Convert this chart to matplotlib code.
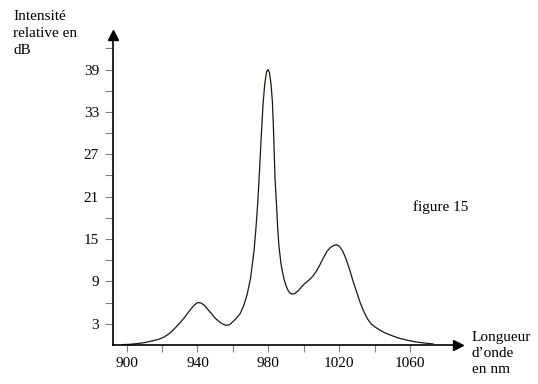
import matplotlib.pyplot as plt

longueur_nm = [898, 902, 906, 910, 914, 918, 921, 924, 927, 930, 933, 936,
               938, 940, 942, 944, 946, 948, 950, 952, 954, 956, 958, 960,
               962, 964, 966, 968, 970, 971, 972, 973, 974, 975, 976, 977,
               978, 979, 979.8, 980.6, 981.5, 982.3, 983, 983.8, 984.5,
               985.3, 986, 987, 988, 989, 990, 991, 992, 993.5, 995, 997,
               999, 1001, 1003, 1005, 1007, 1009, 1011, 1013, 1015, 1017,
               1018.6, 1020, 1022, 1024, 1026, 1028, 1030, 1032, 1034, 1036,
               1038, 1040, 1043, 1046, 1050, 1054, 1058, 1063, 1068, 1073]
intensite_db = [0.05, 0.1, 0.2, 0.33, 0.55, 0.8, 1.1, 1.6, 2.3, 3.1, 4.0, 5.0,
                5.6, 6.0, 5.95, 5.6, 5.0, 4.4, 3.8, 3.35, 3.0, 2.8, 2.85, 3.3,
                3.8, 4.4, 5.5, 7.1, 9.5, 11.5, 13.5, 16.5, 20.0, 24.5, 29.5,
                34.0, 37.0, 38.7, 39.0, 38.6, 37.0, 34.5, 30.0, 23.5, 20.5,
                16.5, 14.0, 11.8, 10.3, 9.2, 8.4, 7.8, 7.4, 7.2, 7.3, 7.7,
                8.3, 8.8, 9.2, 9.7, 10.4, 11.3, 12.3, 13.2, 13.8, 14.1,
                14.2, 14.0, 13.3, 12.1, 10.6, 8.9, 7.4, 5.9, 4.7, 3.7,
                3.0, 2.6, 2.1, 1.7, 1.3, 0.95, 0.7, 0.45, 0.28, 0.15]

xticks = list(range(900, 1061, 20))
xlabels = ["900", "", "940", "", "980", "", "1020", "", "1060"]
yticks = list(range(3, 43, 3))
ylabels = [str(v) if (v - 3) % 6 == 0 else "" for v in yticks]

plt.rcParams["font.family"] = ["Liberation Serif", "DejaVu Serif"]

fig = plt.figure(figsize=(5.38, 3.84), dpi=100)
ax = fig.add_axes([0.21, 0.1016, 0.641, 0.8074])

ax.plot(longueur_nm, intensite_db, color="#1a1a10", linewidth=0.9)

ax.set_xlim(892.3, 1087)
ax.set_ylim(0, 43.9)

ax.spines["top"].set_visible(False)
ax.spines["right"].set_visible(False)
ax.spines["left"].set_linewidth(1.2)
ax.spines["bottom"].set_linewidth(1.2)

ax.set_xticks(xticks)
ax.set_xticklabels(xlabels, fontsize=11)
ax.set_yticks(yticks)
ax.set_yticklabels(ylabels, fontsize=11)
ax.tick_params(axis="x", direction="out", length=5, color="#808080", pad=4)
ax.tick_params(axis="y", direction="out", length=6, color="#808080", pad=4)

# flèches des axes
ax.plot(1, 0, ">", color="black", markersize=7,
        transform=ax.get_yaxis_transform(), clip_on=False)
ax.plot(892.3, 1, "^", color="black", markersize=7,
        transform=ax.get_xaxis_transform(), clip_on=False)

fig.text(13 / 538, 1 - 10 / 384, "Intensité\nrelative en\ndB", fontsize=11,
         ha="left", va="top", linespacing=1.38)
fig.text(472 / 538, 1 - 331 / 384, "Longueur\nd’onde\nen nm", fontsize=11,
         ha="left", va="top", linespacing=1.28)
fig.text(413 / 538, 1 - 207 / 384, "figure 15", fontsize=11,
         ha="left", va="center")

fig.savefig("out.png", dpi=100)
